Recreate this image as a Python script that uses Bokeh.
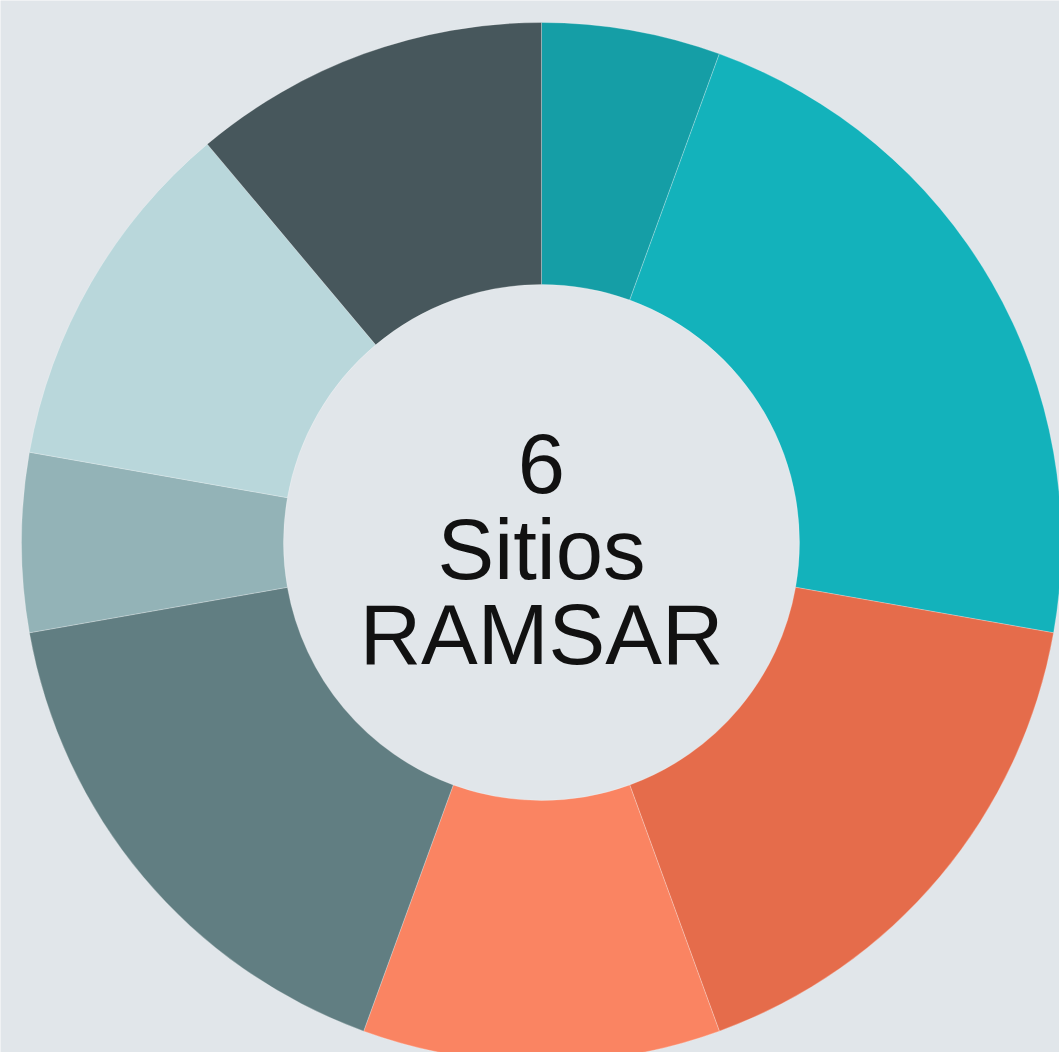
import numpy as np
from bokeh.plotting import figure
from bokeh.models import Range1d, ColumnDataSource
from bokeh.core.properties import value
from bokeh.embed import file_html
from bokeh.resources import INLINE

# ---- data ----
categories = ["A", "B", "C", "D", "E", "F", "G", "H"]
counts = [1, 4, 3, 2, 3, 1, 2, 2]
colors = ["#159ea6", "#13b2bb", "#e56c4b", "#fa8462",
          "#617e82", "#93b3b7", "#b9d7db", "#47575c"]
center_lines = ["6", "Sitios", "RAMSAR"]

W, H = 1059, 1052
cx, cy = 541, H - 542
r_out, r_in = 520, 258

vals = np.array(counts, dtype=float)
frac = vals / vals.sum()
cum = np.concatenate([[0.0], np.cumsum(frac)])
start = np.pi / 2 - cum[:-1] * 2 * np.pi
end = np.pi / 2 - cum[1:] * 2 * np.pi

src = ColumnDataSource(dict(cat=categories, start=start, end=end, color=colors,
                            x=[cx] * len(counts), y=[cy] * len(counts)))

p = figure(width=W, height=H, x_range=Range1d(0, W), y_range=Range1d(0, H),
           output_backend="svg", toolbar_location=None,
           x_axis_location=None, y_axis_location=None,
           min_border=0, min_border_left=0, min_border_right=0,
           min_border_top=0, min_border_bottom=0)
p.grid.visible = False
p.outline_line_color = None
p.background_fill_color = "#e1e6ea"
p.border_fill_color = "#e1e6ea"

p.annular_wedge(x="x", y="y", inner_radius=r_in, outer_radius=r_out,
                start_angle="start", end_angle="end", direction="clock",
                fill_color="color", line_color="#ffffff", line_alpha=0.25,
                line_width=1, source=src)

line_h = 85.5
ys = [cy + 79 - i * line_h for i in range(len(center_lines))]
p.text(x=[cx] * len(center_lines), y=ys, text=center_lines,
       text_align="center", text_baseline="alphabetic",
       text_font=value("Liberation Sans"), text_font_size="85px",
       text_color="#111111")

open("out.html", "w").write(file_html(p, INLINE))
